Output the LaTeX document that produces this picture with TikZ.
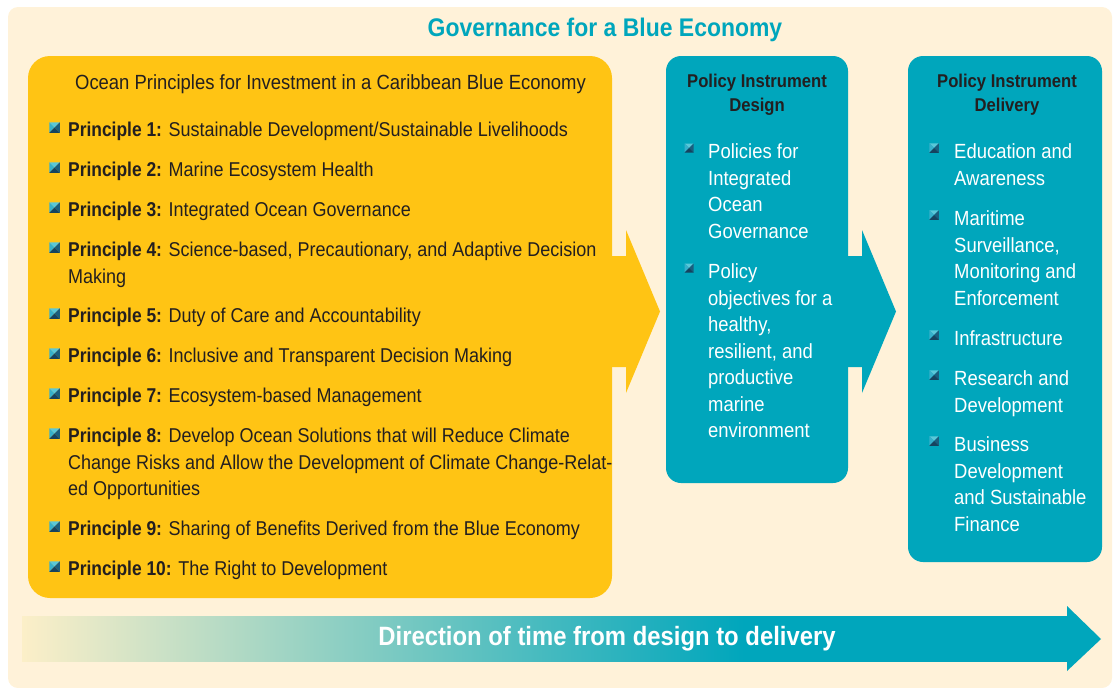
\documentclass[tikz,border=0pt]{standalone}
\usepackage{fontspec}
\setmainfont{Liberation Sans}[FakeStretch=0.9]
\newfontface\pbold{Liberation Sans Bold}[FakeStretch=0.87]
\usepackage{xcolor}
\usetikzlibrary{positioning,calc}

\definecolor{cream}{HTML}{FFF2D9}
\definecolor{sun}{HTML}{FFC414}
\definecolor{sea}{HTML}{00A6BC}
\definecolor{ink}{HTML}{231F20}
\definecolor{fade}{HTML}{FCEFC8}
\definecolor{bulA}{HTML}{5AC8D9}
\definecolor{bulB}{HTML}{36B0CB}
\definecolor{bulC}{HTML}{1B5E7E}
\definecolor{bulD}{HTML}{16435F}

% gradient of the time bar (path maps to 25bp..75bp), full teal from about 2/3 of its length
\pgfdeclarehorizontalshading{timebar}{100bp}{color(0bp)=(fade); color(25bp)=(fade); color(59.5bp)=(sea); color(100bp)=(sea)}

\tikzset{
  box/.style={rounded corners=#1, inner sep=0pt, minimum width=0pt},
  % multi-line items sit on the baseline of their last line
  item/.style={anchor=base west, align=left, inner sep=0pt, text=ink,
    font=\fontsize{20}{26.5}\selectfont},
  witem/.style={item, text=white, font=\fontsize{20.5}{26.5}\selectfont},
  head/.style={align=center, inner sep=0pt, text=ink,
    font=\fontsize{18.5}{24}\selectfont\bfseries},
  bul/.pic={
    \fill[bulA] (-.5,-.5) -- (.5,-.5) -- (0,0) -- cycle;
    \fill[bulB] (-.5,-.5) -- (-.5,.5) -- (0,0) -- cycle;
    \fill[bulC] (.5,-.5) -- (.5,.5) -- (0,0) -- cycle;
    \fill[bulD] (-.5,.5) -- (.5,.5) -- (0,0) -- cycle;
  }
}

\begin{document}
\begin{tikzpicture}[x=1pt, y=-1pt]
  \useasboundingbox (0,0) rectangle (1114,688);
  % Background panel
  \fill[cream, rounded corners=10pt] (8,7) rectangle (1112,688);
  \node[text=sea, font=\fontsize{25.5}{30}\selectfont\bfseries, inner sep=0pt] (title) at (605,30) {Governance for a Blue Economy};

  % Boxes
  \node[box=22pt, fill=sun, minimum width=584pt, minimum height=542pt] (ocean) at (320,327) {};
  \node[box=15pt, fill=sea, minimum width=182pt, minimum height=427pt] (design) at (757,269.5) {};
  \node[box=15pt, fill=sea, minimum width=194pt, minimum height=506pt] (delivery) at (1005,309) {};

  % Block arrows between the boxes
  \fill[sun] (ocean.east |- 0,256) ++(-10,0) -- (626,256) -- (626,230) -- (660,311.5)
    -- (626,393) -- (626,367) -- (602,367) -- cycle;
  \fill[sea] (design.east |- 0,256) ++(-10,0) -- (862,256) -- (862,230) -- (896,311.5)
    -- (862,393) -- (862,367) -- (838,367) -- cycle;

  % Principles
  \node[item, anchor=base, font=\fontsize{20.5}{26.5}\selectfont] (oph) at (330.5,89) {Ocean Principles for Investment in a Caribbean Blue Economy};
  \node[item] (p1) at (68,136.5) {{\pbold Principle 1:} Sustainable Development/Sustainable Livelihoods};
  \node[item] (p2) at (68,176.5) {{\pbold Principle 2:} Marine Ecosystem Health};
  \node[item] (p3) at (68,216.5) {{\pbold Principle 3:} Integrated Ocean Governance};
  \node[item] (p4) at (68,283) {{\pbold Principle 4:} Science-based, Precautionary, and Adaptive Decision\\Making};
  \node[item] (p5) at (68,322.5) {{\pbold Principle 5:} Duty of Care and Accountability};
  \node[item] (p6) at (68,362.5) {{\pbold Principle 6:} Inclusive and Transparent Decision Making};
  \node[item] (p7) at (68,402.5) {{\pbold Principle 7:} Ecosystem-based Management};
  \node[item] (p8) at (68,495.5) {{\pbold Principle 8:} Develop Ocean Solutions that will Reduce Climate\\Change Risks and Allow the Development of Climate Change-Relat-\\ed Opportunities};
  \node[item] (p9) at (68,535.5) {{\pbold Principle 9:} Sharing of Benefits Derived from the Blue Economy};
  \node[item] (p10) at (68,575.5) {{\pbold Principle 10:} The Right to Development};
  \foreach \y in {127.5,167.5,207.5,247.5,313.5,353.5,393.5,433.5,526.5,566.5}
    \pic[scale=10.5] at (54.5,\y) {bul};

  % Policy instrument design
  \node[head] (dh) at (757,95) {Policy Instrument\\Design};
  \node[witem] (d1) at (708,238) {Policies for\\Integrated\\Ocean\\Governance};
  \node[witem] (d2) at (708,437.5) {Policy\\objectives for a\\healthy,\\resilient, and\\productive\\marine\\environment};
  \foreach \y in {148,268}
    \pic[scale=9] at (689,\y) {bul};

  % Policy instrument delivery
  \node[head] (vh) at (1007,95) {Policy Instrument\\Delivery};
  \node[witem] (v1) at (954,185) {Education and\\Awareness};
  \node[witem] (v2) at (954,305) {Maritime\\Surveillance,\\Monitoring and\\Enforcement};
  \node[witem] (v3) at (954,345.5) {Infrastructure};
  \node[witem] (v4) at (954,412) {Research and\\Development};
  \node[witem] (v5) at (954,531) {Business\\Development\\and Sustainable\\Finance};
  \foreach \y in {148,215,335,375,441}
    \pic[scale=9.5] at (934,\y) {bul};

  % Direction of time
  \shade[shading=timebar] (22,616) rectangle (1068,661);
  \fill[sea] (1067,606) -- (1101,639) -- (1067,671) -- cycle;
  \node[text=white, font=\fontsize{26.5}{30}\selectfont\bfseries, inner sep=0pt] (time) at (607,639) {Direction of time from design to delivery};
\end{tikzpicture}
\end{document}
